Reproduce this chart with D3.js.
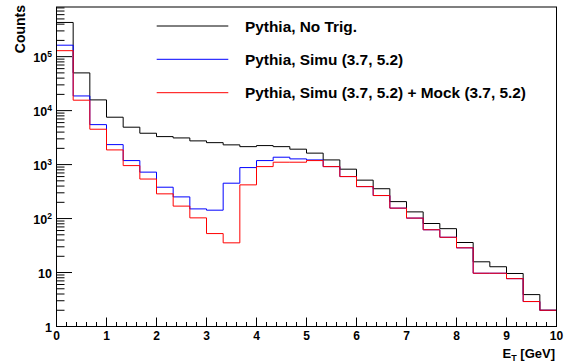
<!DOCTYPE html>
<html>
<head>
<meta charset="utf-8">
<script src="https://cdn.jsdelivr.net/npm/d3@7/dist/d3.min.js"></script>
<style>
  body { margin: 0; background: #fff; }
  svg { display: block; }
  text { font-family: "Liberation Sans", Arial, Helvetica, sans-serif; font-weight: bold; fill: #000; }
</style>
</head>
<body>
<svg id="chart" width="567" height="364"></svg>
<script>
// 30 bins of 1/3 GeV from 0 to 10
const nBins = 30;
const xMin = 0, xMax = 10;

const noTrig = [430000, 50000, 15800, 7550, 4930, 3810, 3300, 3120, 2750, 2550,
                2320, 2150, 2250, 2150, 1930, 1630, 1220, 822, 515, 357,
                206, 133, 81, 65, 36, 15.8, 12.8, 9.6, 3.9, 2];
const simu = [163000, 18700, 5500, 2345, 1186, 725, 381, 252, 151, 143,
              452, 880, 1186, 1370, 1275, 1220, 918, 600, 391, 267,
              156, 102, 62, 45, 28.7, 9.7, 9.7, 7.7, 2.9, 2];
const simuMock = [129000, 15600, 4520, 1870, 958, 540, 287, 170, 103, 52.7,
                  35.5, 421, 918, 1107, 1107, 1186, 918, 600, 391, 267,
                  156, 102, 62, 45, 28.7, 9.7, 9.7, 7.7, 2.9, 2];

const seriesNames = ['Pythia, No Trig.', 'Pythia, Simu (3.7, 5.2)', 'Pythia, Simu (3.7, 5.2) + Mock (3.7, 5.2)'];
const seriesColors = ['#000000', '#0000ff', '#ff0000'];

const xTickValues = [0, 1, 2, 3, 4, 5, 6, 7, 8, 9, 10];
const yDecades = [0, 1, 2, 3, 4, 5];

const svg = d3.select('#chart');
const frame = { left: 56.5, right: 556.5, top: 7, bottom: 326.5 };

const x = d3.scaleLinear().domain([xMin, xMax]).range([frame.left, frame.right]);
const y = d3.scaleLog().domain([1, Math.pow(10, 5.92)]).range([frame.bottom, frame.top]);

const binW = (xMax - xMin) / nBins;

function stepPoints(values) {
    const pts = values.map((v, i) => [xMin + i * binW, v]);
    pts.push([xMax, values[values.length - 1]]);
    return pts;
}

const line = d3.line()
    .x(d => x(d[0]))
    .y(d => y(d[1]))
    .curve(d3.curveStepAfter);

svg.append('clipPath').attr('id', 'clip')
    .append('rect')
    .attr('x', frame.left).attr('y', frame.top)
    .attr('width', frame.right - frame.left)
    .attr('height', frame.bottom - frame.top);

const plot = svg.append('g').attr('clip-path', 'url(#clip)');

[noTrig, simu, simuMock].forEach((vals, i) => {
    plot.append('path')
        .attr('d', line(stepPoints(vals)))
        .attr('fill', 'none')
        .attr('stroke', seriesColors[i])
        .attr('stroke-width', 1);
});

// frame
svg.append('rect')
    .attr('x', frame.left).attr('y', frame.top)
    .attr('width', frame.right - frame.left)
    .attr('height', frame.bottom - frame.top)
    .attr('fill', 'none')
    .attr('stroke', '#000')
    .attr('stroke-width', 1);

// x ticks: major at integers, minor every 0.2
const xMinor = d3.range(0, 50).map(i => i * 0.2).filter(v => Math.abs(v - Math.round(v)) > 1e-6);
svg.append('g').selectAll('line.minor')
    .data(xMinor).enter().append('line')
    .attr('x1', d => x(d)).attr('x2', d => x(d))
    .attr('y1', frame.bottom).attr('y2', frame.bottom - 4.5)
    .attr('stroke', '#000');
svg.append('g').selectAll('line.major')
    .data(xTickValues).enter().append('line')
    .attr('x1', d => x(d)).attr('x2', d => x(d))
    .attr('y1', frame.bottom).attr('y2', frame.bottom - 9)
    .attr('stroke', '#000');
svg.append('g').selectAll('text')
    .data(xTickValues).enter().append('text')
    .attr('x', d => x(d))
    .attr('y', 340)
    .attr('text-anchor', 'middle')
    .attr('font-size', 12)
    .text(d => d);

// y ticks: decades with minors 2..9
const yTop = y.domain()[1];
const yMinorVals = [];
yDecades.forEach(k => {
    for (let m = 2; m <= 9; m++) {
        const v = m * Math.pow(10, k);
        if (v <= yTop) yMinorVals.push(v);
    }
});
svg.append('g').selectAll('line')
    .data(yMinorVals).enter().append('line')
    .attr('x1', frame.left).attr('x2', frame.left + 8)
    .attr('y1', d => y(d)).attr('y2', d => y(d))
    .attr('stroke', '#000');
svg.append('g').selectAll('line')
    .data(yDecades).enter().append('line')
    .attr('x1', frame.left).attr('x2', frame.left + 15.5)
    .attr('y1', d => y(Math.pow(10, d))).attr('y2', d => y(Math.pow(10, d)))
    .attr('stroke', '#000');

const yLab = svg.append('g').selectAll('text')
    .data(yDecades).enter().append('text')
    .attr('x', 52)
    .attr('y', d => y(Math.pow(10, d)) + 5)
    .attr('text-anchor', 'end')
    .attr('font-size', 12.5);
yLab.each(function(d) {
    const t = d3.select(this);
    if (d === 0) t.text('1');
    else if (d === 1) t.text('10');
    else {
        t.append('tspan').text('10');
        t.append('tspan').attr('font-size', 8.5).attr('dy', -5).text(d);
    }
});

// axis titles
svg.append('text')
    .attr('transform', 'translate(25,5) rotate(-90)')
    .attr('text-anchor', 'end')
    .attr('font-size', 14)
    .text('Counts');

const xt = svg.append('text')
    .attr('x', 555).attr('y', 358)
    .attr('text-anchor', 'end')
    .attr('font-size', 13);
xt.append('tspan').text('E');
xt.append('tspan').attr('font-size', 9).attr('dy', 3).text('T');
xt.append('tspan').attr('dy', -3).text(' [GeV]');

// legend
const legendY = [26, 59.3, 92.7];
const legend = svg.append('g');
seriesNames.forEach((name, i) => {
    legend.append('line')
        .attr('x1', 156.7).attr('x2', 228.3)
        .attr('y1', legendY[i]).attr('y2', legendY[i])
        .attr('stroke', seriesColors[i])
        .attr('stroke-width', 1);
    legend.append('text')
        .attr('x', 245)
        .attr('y', legendY[i] + 5.5)
        .attr('font-size', 15.4)
        .text(name);
});
</script>
</body>
</html>
